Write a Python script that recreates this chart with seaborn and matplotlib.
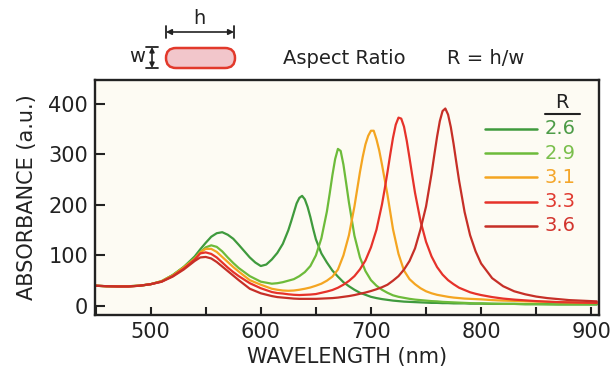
import matplotlib
matplotlib.use("Agg")
import pandas as pd
import matplotlib.pyplot as plt
import seaborn as sns
from matplotlib.patches import FancyBboxPatch
from matplotlib.ticker import MultipleLocator

# Wavelength grid (nm) shared by all spectra
wavelength = [450, 460, 470, 480, 490, 500, 510, 520, 530, 540,
              545, 550, 555, 560, 565, 570, 575, 580,
              590, 600, 610,
              615, 620, 625, 630, 635, 640, 645, 650, 655, 660,
              665, 670, 675, 680, 685, 690, 695, 700, 705, 710,
              715, 720, 725, 730, 735, 740, 745, 750, 755, 760,
              765, 770, 775, 780, 785, 790, 795, 800,
              810, 820, 830, 840, 850, 860, 870, 880, 890, 905]

# Absorbance (a.u.), one list per aspect ratio
abs_26 = [40, 39, 39, 39, 40, 43, 49, 61, 77, 98,
          112, 125, 137, 144, 146, 141, 133, 121,
          96, 79, 92,
          105, 123, 150, 185, 214, 211, 176, 132, 104, 86,
          70, 58, 47, 39, 32, 26, 22, 18, 15.5, 13.5,
          12, 10.5, 9.5, 8.5, 8, 7.5, 7, 6.5, 6, 6,
          5.5, 5.5, 5, 5, 5, 4.5, 4.5, 4.5,
          4, 4, 4, 3.5, 3.5, 3.5, 3, 3, 3, 3]
abs_29 = [40, 39, 39, 39, 40, 43, 49, 61, 77, 95,
          106, 116, 120, 117, 108, 96, 85, 75,
          59, 48, 44,
          45, 47, 50, 53, 59, 67, 79, 100, 134, 187,
          259, 311, 280, 205, 139, 96, 69, 51, 40, 32,
          26, 21, 18, 16, 14, 12.5, 11.5, 10.5, 9.5, 9,
          8, 7.5, 7, 6.5, 6, 5.5, 5, 5,
          4.5, 4, 4, 3.5, 3.5, 3, 3, 3, 3, 3]
abs_31 = [40, 39, 39, 39, 40, 43, 49, 60, 76, 93,
          106, 113, 113, 107, 97, 87, 77, 68,
          51, 42, 34,
          32, 30.5, 30, 30.5, 32, 34, 36.5, 40, 44, 50,
          58, 72, 100, 140, 197, 265, 320, 347, 330, 280,
          220, 152, 103, 70, 53, 43, 35, 29, 25, 22,
          20, 18, 16.5, 15.5, 14.5, 14, 13.5, 13,
          11.5, 10.5, 10, 9, 8.5, 8, 7.5, 7, 6.5, 6]
abs_33 = [40, 39, 38.5, 38.5, 40, 43, 48, 59, 74, 92,
          104, 106, 103, 96, 86, 76, 67, 59,
          45, 35, 27.5,
          25.5, 24.5, 23, 22, 21.5, 22, 22.5, 23.5, 26, 28.5,
          31.5, 36, 42, 49.5, 59, 72.5, 90, 116, 151, 201,
          265, 333, 373, 355, 293, 224, 168, 127, 98, 77,
          62, 51, 43, 36, 31.5, 27, 24, 21.5,
          17.5, 14.5, 12.5, 11, 9.5, 8.5, 7.5, 7, 6.5, 6]
abs_36 = [40, 39, 38.5, 38.5, 40, 43, 48, 58, 72, 89,
          96, 97, 94, 87, 78, 69, 60, 51,
          34, 25, 19.5,
          17.5, 16.5, 15.5, 14.5, 14, 14, 14, 14, 14.5, 15,
          15.5, 16.5, 18, 19.5, 21.5, 24, 26.5, 29.5, 33, 37,
          42, 50, 59, 72, 89, 114, 152, 197, 262, 335,
          386, 379, 321, 248, 186, 140, 108, 84,
          55, 39, 29, 23, 18.5, 15.5, 13.5, 11.5, 10.5, 9]

# extra readings around each peak tip (and the 2.6 dip)
tip_wl_26 = [595, 605, 627.5, 632.5, 637.5, 642.5, 647.5]
tip_26 = [86, 82, 167, 203, 218, 196, 153]
tip_wl_29 = [662.5, 667.5, 672.5, 677.5]
tip_29 = [222, 291, 307, 243]
tip_wl_31 = [692.5, 697.5, 702.5, 707.5]
tip_31 = [295, 337, 347, 308]
tip_wl_33 = [712.5, 717.5, 722.5, 727.5, 732.5, 737.5]
tip_33 = [232, 300, 359, 371, 327, 258]
tip_wl_36 = [757.5, 762.5, 767.5, 772.5, 777.5]
tip_36 = [299, 366, 391, 354, 284]

ratios = ["2.6", "2.9", "3.1", "3.3", "3.6"]
series = [abs_26, abs_29, abs_31, abs_33, abs_36]
tip_wls = [tip_wl_26, tip_wl_29, tip_wl_31, tip_wl_33, tip_wl_36]
tips = [tip_26, tip_29, tip_31, tip_33, tip_36]
line_colors = ["#3f9a3d", "#6dbb3a", "#f4a521", "#e6322a", "#c62f27"]
text_colors = ["#4c9b47", "#7abf4c", "#f4a62a", "#e03a30", "#d2352e"]

frames = []
for r, vals, twl, tv in zip(ratios, series, tip_wls, tips):
    frames.append(pd.DataFrame({"wavelength": wavelength + twl,
                                "absorbance": vals + tv, "R": r}))
df = pd.concat(frames, ignore_index=True)

sns.set_theme(style="ticks")
plt.rcParams["font.family"] = ["DejaVu Sans"]
ink = "#222222"

W, H = 610, 373
fig = plt.figure(figsize=(W / 100, H / 100), dpi=100)
fig.patch.set_facecolor("white")
ax = fig.add_axes([95 / W, 1 - 315 / H, 504 / W, 235 / H])
ax.set_facecolor("#fdfbf3")

sns.lineplot(data=df, x="wavelength", y="absorbance", hue="R",
             palette=dict(zip(ratios, line_colors)), estimator=None,
             sort=True, linewidth=1.6, legend=False, ax=ax)

ax.set_xlim(449.5, 907)
ax.set_ylim(-18, 447.5)
ax.set_xticks([500, 600, 700, 800, 900])
ax.xaxis.set_minor_locator(MultipleLocator(50))
ax.set_yticks([0, 100, 200, 300, 400])
ax.tick_params(which="both", direction="in", width=1.5, length=5.5,
               labelsize=15, pad=5, colors=ink, top=False, right=False)
ax.tick_params(axis="y", length=7)
for s in ax.spines.values():
    s.set_linewidth(1.7)
    s.set_color(ink)
ax.set_xlabel("WAVELENGTH (nm)", fontsize=15, labelpad=4, color=ink)
ax.set_ylabel("ABSORBANCE (a.u.)", fontsize=15, labelpad=8, color=ink)

# overlay in pixel coordinates for the sketch and the legend
ov = fig.add_axes([0, 0, 1, 1])
ov.set_xlim(0, W)
ov.set_ylim(H, 0)
ov.set_axis_off()

# legend
ov.text(562, 103, "R", fontsize=14, ha="center", va="center", color=ink)
ov.plot([545, 580], [114, 114], color=ink, lw=1.5)
for i, (r, lc, tc) in enumerate(zip(ratios, line_colors, text_colors)):
    y = 129 + i * 24.2
    ov.plot([485, 537], [y, y], color=lc, lw=1.8)
    ov.text(545, y, r, fontsize=14, ha="left", va="center", color=tc)

# nanorod sketch
rod = FancyBboxPatch((166, 48), 69, 20, boxstyle="round,pad=0,rounding_size=10",
                     facecolor="#f2c6cb", edgecolor="#e2392b", lw=1.8)
ov.add_patch(rod)
ov.annotate("", xy=(166, 32), xytext=(234, 32),
            arrowprops=dict(arrowstyle="<|-|>", color=ink, lw=1.2,
                            mutation_scale=8, shrinkA=0, shrinkB=0))
ov.plot([166, 166], [26, 38], color=ink, lw=1.3)
ov.plot([234, 234], [26, 38], color=ink, lw=1.3)
ov.text(199, 19, "h", fontsize=14, ha="center", va="center", color=ink)
ov.annotate("", xy=(152, 47), xytext=(152, 68),
            arrowprops=dict(arrowstyle="<|-|>", color=ink, lw=1.2,
                            mutation_scale=7, shrinkA=0, shrinkB=0))
ov.plot([146, 158], [47, 47], color=ink, lw=1.3)
ov.plot([146, 158], [68, 68], color=ink, lw=1.3)
ov.text(137, 56, "w", fontsize=14, ha="center", va="center", color=ink)
ov.text(283, 58, "Aspect Ratio", fontsize=14, ha="left", va="center", color=ink)
ov.text(447, 58, "R = h/w", fontsize=14, ha="left", va="center", color=ink)

fig.savefig("out.png", dpi=100)
